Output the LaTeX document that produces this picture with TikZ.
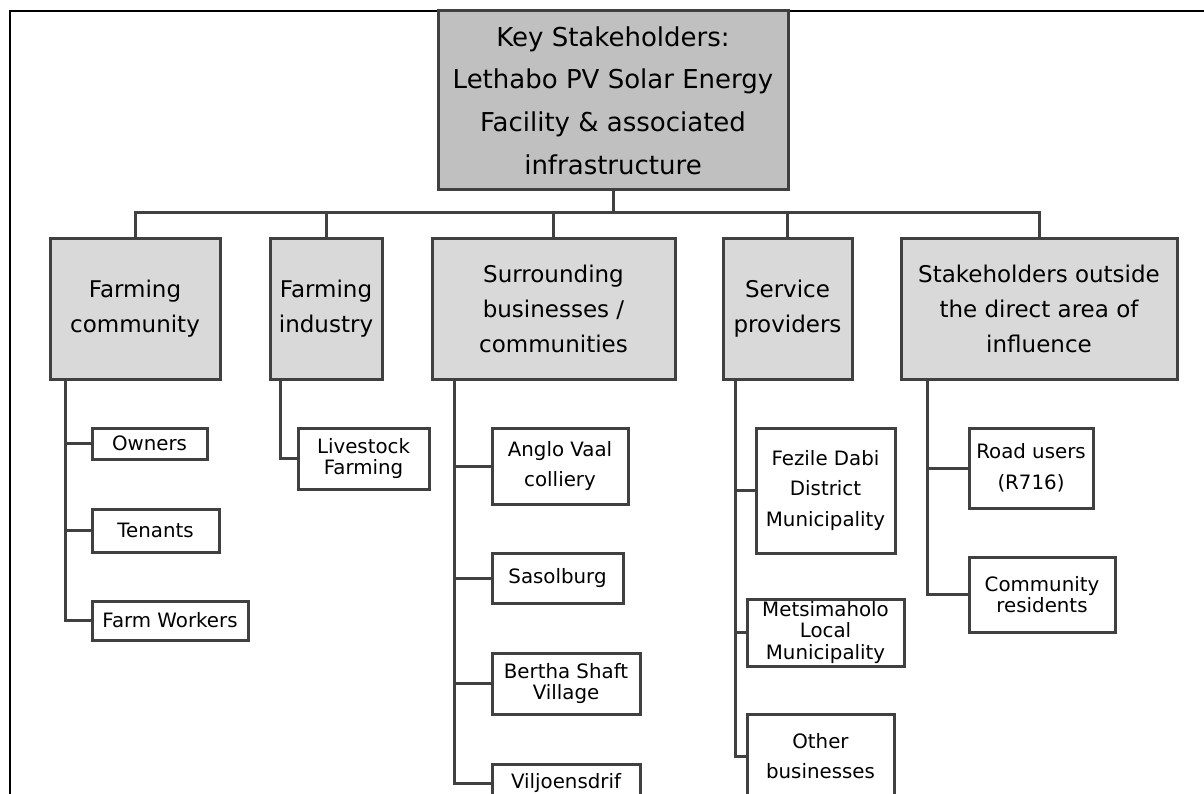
\documentclass[tikz,border=0pt]{standalone}
\usepackage{fontspec}
\setmainfont{DejaVu Sans}
\usetikzlibrary{calc}
\definecolor{edge}{HTML}{404040}
\definecolor{headfill}{HTML}{C0C0C0}
\definecolor{groupfill}{HTML}{D9D9D9}
\begin{document}
\begin{tikzpicture}[x=1pt,y=-1pt,
  box/.style={draw=edge, line width=3pt, rectangle, inner sep=0pt, align=center},
  head/.style={box, fill=headfill, font=\fontsize{26}{42.7}\selectfont},
  group/.style={box, fill=groupfill, minimum height=140pt, font=\fontsize{23}{35}\selectfont},
  leaf/.style={box, fill=white, font=\fontsize{19.8}{30.5}\selectfont},
  tight/.style={font=\fontsize{19.8}{21.5}\selectfont},
  link/.style={draw=edge, line width=3pt}
]
\useasboundingbox (0,0) rectangle (1204,794);
\clip (0,0) rectangle (1204,794);

% page frame
\draw[black, line width=1.5pt] (10,800) -- (10,11) -- (1210,11);

% root
\node[head, minimum width=350pt, minimum height=179pt] (top) at (613,100.5)
  {Key Stakeholders:\\Lethabo PV Solar Energy\\Facility \& associated\\infrastructure};

% stakeholder groups
\node[group, minimum width=170pt] (fc) at (135,309) {Farming\\community};
\node[group, minimum width=112pt] (fi) at (326,309) {Farming\\industry};
\node[group, minimum width=243pt] (sb) at (553.5,309) {Surrounding\\businesses /\\communities};
\node[group, minimum width=129pt] (sp) at (787.5,309) {Service\\providers};
\node[group, minimum width=276pt] (so) at (1039,309) {Stakeholders outside\\the direct area of\\influence};

% members
\node[leaf, minimum width=115pt, minimum height=31pt] (own) at (149.5,443.5) {Owners};
\node[leaf, minimum width=127pt, minimum height=43pt] (ten) at (155.5,530.5) {Tenants};
\node[leaf, minimum width=156pt, minimum height=39pt] (fw) at (170,620.5) {Farm Workers};

\node[leaf, tight, minimum width=131pt, minimum height=61pt] (ls) at (363.5,458.5) {Livestock\\Farming};

\node[leaf, minimum width=136pt, minimum height=76pt] (av) at (560,466) {Anglo Vaal\\colliery};
\node[leaf, minimum width=131pt, minimum height=50pt] (sas) at (557.5,578) {Sasolburg};
\node[leaf, tight, minimum width=148pt, minimum height=61pt] (bsv) at (566,683.5) {Bertha Shaft\\Village};
\node[leaf, minimum width=148pt, minimum height=38pt] (vil) at (566,783) {Viljoensdrif};

\node[leaf, minimum width=139pt, minimum height=125pt] (fd) at (825.5,490.5) {Fezile Dabi\\District\\Municipality};
\node[leaf, tight, minimum width=157pt, minimum height=67pt] (mlm) at (825.5,632.5) {Metsimaholo\\Local\\Municipality};
\node[leaf, minimum width=147pt, minimum height=84pt] (ob) at (820.5,756) {Other\\businesses};

\node[leaf, minimum width=124pt, minimum height=80pt] (ru) at (1031,468) {Road users\\(R716)};
\node[leaf, tight, minimum width=146pt, minimum height=75pt] (cr) at (1042,594.5) {Community\\residents};

% root to groups
\coordinate (bus) at (613,213);
\draw[link] (top.south) -- (bus);
\foreach \g in {fc,fi,sb,sp,so}
  \draw[link] (bus) -| (\g.north);

% group trunks
\coordinate (fcT) at ($(fc.south west)+(17,0)$);
\coordinate (fiT) at ($(fi.south west)+(12,0)$);
\coordinate (sbT) at ($(sb.south west)+(24,0)$);
\coordinate (spT) at ($(sp.south west)+(14,0)$);
\coordinate (soT) at ($(so.south west)+(28,0)$);

\foreach \m in {own,ten,fw} \draw[link] (fcT) |- (\m.west);
\draw[link] (fiT) |- (ls.west);
\foreach \m in {av,sas,bsv,vil} \draw[link] (sbT) |- (\m.west);
\foreach \m in {fd,mlm,ob} \draw[link] (spT) |- (\m.west);
\foreach \m in {ru,cr} \draw[link] (soT) |- (\m.west);
\end{tikzpicture}
\end{document}
